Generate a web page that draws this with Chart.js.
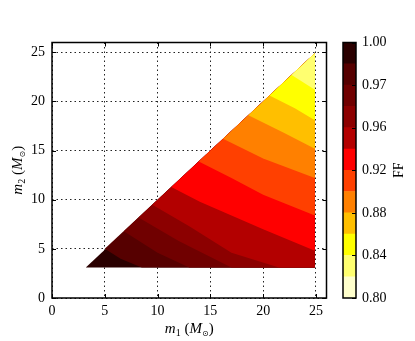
<!DOCTYPE html>
<html>
<head>
<meta charset="utf-8">
<script src="https://cdn.jsdelivr.net/npm/chart.js@4/dist/chart.umd.min.js"></script>
<style>
  html, body { margin: 0; padding: 0; background: #fff; }
  #wrap { position: relative; width: 415px; height: 341px; }
  #wrap canvas { position: absolute; left: 0; top: 0; }
</style>
</head>
<body>
<div id="wrap">
  <canvas id="ffMap" width="415" height="341"></canvas>
  <canvas id="ffBar" width="415" height="341"></canvas>
</div>
<script>
// fitting factor over the (m1, m2) plane: filled contours plus a colour bar

const axisTicks = [0, 5, 10, 15, 20, 25];
const ffTickLabels = ['0.80', '0.84', '0.88', '0.92', '0.96', '0.97', '1.00'];
// one colour per contour band, lowest FF first (colour bar bottom -> top)
const bandColors = ['#ffffcc', '#ffff70', '#ffff00', '#ffbf00', '#ff8000', '#ff4000',
                    '#ff0000', '#b30000', '#8c0000', '#700000', '#560000', '#2a0000'];

// edges of the sampled region (m2 <= m1)
const m1Min = 3.2, m1Max = 24.9, m2Min = 3.1;

// contour lines, highest FF first; each one starts on the m1 = m2 edge
const contourM1 = [
  [5.0, 6.5, 8.5],
  [6.8, 10.0, 13.0],
  [8.2, 12.0, 17.0],
  [9.5, 13.0, 17.0, 21.5],
  [11.3, 14.0, 20.0, 24.9],
  [13.9, 17.0, 20.0, 24.9],
  [16.2, 20.0, 24.9],
  [18.6, 22.0, 24.9],
  [20.6, 23.0, 24.9],
  [22.7, 24.9]
];
const contourM2 = [
  [5.0, 4.0, 3.1],
  [6.8, 4.6, 3.1],
  [8.2, 5.8, 3.1],
  [9.5, 7.3, 4.6, 3.1],
  [11.3, 9.8, 7.0, 4.8],
  [13.9, 12.2, 10.5, 8.4],
  [16.2, 14.2, 12.2],
  [18.6, 16.8, 15.2],
  [20.6, 19.3, 18.1],
  [22.7, 21.2]
];

const serif = '"Liberation Serif", "DejaVu Serif", serif';
Chart.defaults.font.family = serif;
Chart.defaults.font.size = 14;
Chart.defaults.color = '#000';

// region above contour k, closed along the triangle edges
function bandPolygon(k) {
  const pts = contourM1[k].map((x, i) => ({ x: x, y: contourM2[k][i] }));
  if (pts[pts.length - 1].x < m1Max) pts.push({ x: m1Max, y: m2Min });
  pts.push({ x: m1Max, y: m1Max });
  return pts;
}

const darkFirst = bandColors.slice().reverse();
const layers = [{ data: [{ x: m1Min, y: m2Min }, { x: m1Max, y: m2Min }, { x: m1Max, y: m1Max }], color: darkFirst[0] }];
contourM1.forEach((_, k) => layers.push({ data: bandPolygon(k), color: darkFirst[k + 1] }));

function drawMath(ctx, parts, x, y, rotate) {
  let w = 0;
  parts.forEach(p => { ctx.font = p[1]; w += ctx.measureText(p[0]).width; });
  ctx.save();
  ctx.translate(x, y);
  if (rotate) ctx.rotate(-Math.PI / 2);
  ctx.fillStyle = '#000';
  ctx.textBaseline = 'alphabetic';
  let cx = -w / 2;
  parts.forEach(p => {
    ctx.font = p[1];
    ctx.fillText(p[0], cx, p[2]);
    cx += ctx.measureText(p[0]).width;
  });
  ctx.restore();
}

function massLabel(idx) {
  return [
    ['m', 'italic 15px ' + serif, 0],
    [idx, '10px ' + serif, 3],
    [' (', '15px ' + serif, 0],
    ['M', 'italic 15px ' + serif, 0],
    ['\u2299', '8px "DejaVu Sans"', 3],
    [')', '15px ' + serif, 0]
  ];
}

const framePlugin = {
  id: 'frame',
  afterDraw(chart) {
    const { ctx, chartArea: a, scales: { x, y } } = chart;
    ctx.save();
    ctx.strokeStyle = '#000';
    ctx.lineWidth = 1;
    ctx.beginPath();
    axisTicks.forEach(v => {
      const px = Math.round(x.getPixelForValue(v)) + 0.5;
      ctx.moveTo(px, a.top); ctx.lineTo(px, a.top + 4);
      ctx.moveTo(px, a.bottom); ctx.lineTo(px, a.bottom - 4);
      const py = Math.round(y.getPixelForValue(v)) + 0.5;
      ctx.moveTo(a.left, py); ctx.lineTo(a.left + 4, py);
      ctx.moveTo(a.right, py); ctx.lineTo(a.right - 4, py);
    });
    ctx.stroke();
    ctx.lineWidth = 1.5;
    ctx.strokeRect(a.left, a.top, a.width, a.height);
    ctx.restore();
    drawMath(ctx, massLabel('1'), (a.left + a.right) / 2, a.bottom + 35, false);
    drawMath(ctx, massLabel('2'), a.left - 30, (a.top + a.bottom) / 2, true);
  }
};

const gridOpts = { color: '#222', lineWidth: 1, drawTicks: false };
const borderOpts = { display: false, dash: [1.5, 3] };

new Chart(document.getElementById('ffMap'), {
  type: 'line',
  data: {
    datasets: layers.slice().reverse().map(l => ({
      data: l.data,
      backgroundColor: l.color,
      borderColor: 'rgba(0,0,0,0)',
      borderWidth: 0,
      pointRadius: 0,
      tension: 0,
      fill: 'shape'
    }))
  },
  options: {
    responsive: false,
    animation: false,
    devicePixelRatio: 1,
    events: [],
    layout: { padding: { top: 42.5, right: 88.5, left: 0, bottom: 0 } },
    plugins: { legend: { display: false }, tooltip: { enabled: false } },
    scales: {
      x: {
        type: 'linear', min: 0, max: 26, z: 1,
        afterFit: s => { s.height = 43; },
        afterBuildTicks: s => { s.ticks = axisTicks.map(v => ({ value: v })); },
        ticks: { padding: 5 },
        grid: gridOpts,
        border: borderOpts
      },
      y: {
        type: 'linear', min: 0, max: 26, z: 1,
        afterFit: s => { s.width = 52; },
        afterBuildTicks: s => { s.ticks = axisTicks.map(v => ({ value: v })); },
        ticks: { padding: 7 },
        grid: gridOpts,
        border: borderOpts
      }
    }
  },
  plugins: [framePlugin]
});

const barFramePlugin = {
  id: 'barFrame',
  afterDraw(chart) {
    const { ctx, chartArea: a, scales: { y } } = chart;
    ctx.save();
    ctx.strokeStyle = '#000';
    ctx.lineWidth = 1;
    ctx.beginPath();
    y.ticks.forEach(t => {
      const py = Math.round(y.getPixelForValue(t.value)) + 0.5;
      ctx.moveTo(a.right, py); ctx.lineTo(a.right - 4, py);
    });
    ctx.stroke();
    ctx.lineWidth = 1.5;
    ctx.strokeRect(a.left, a.top, a.width, a.height);
    ctx.restore();
    drawMath(ctx, [['FF', '14px ' + serif, 0]], a.right + 47, (a.top + a.bottom) / 2, true);
  }
};

new Chart(document.getElementById('ffBar'), {
  type: 'bar',
  data: {
    labels: ['FF'],
    datasets: bandColors.map(c => ({
      data: [1],
      backgroundColor: c,
      borderWidth: 0,
      barPercentage: 1,
      categoryPercentage: 1
    }))
  },
  options: {
    responsive: false,
    animation: false,
    devicePixelRatio: 1,
    events: [],
    layout: { padding: { left: 343, top: 42.5, bottom: 43, right: 0 } },
    plugins: { legend: { display: false }, tooltip: { enabled: false } },
    scales: {
      x: { display: false, stacked: true },
      y: {
        position: 'right', stacked: true, min: 0, max: bandColors.length,
        afterFit: s => { s.width = 59; },
        ticks: { stepSize: 2, padding: 6, callback: v => ffTickLabels[v / 2] },
        grid: { display: false, drawTicks: false },
        border: { display: false }
      }
    }
  },
  plugins: [barFramePlugin]
});
</script>
</body>
</html>
